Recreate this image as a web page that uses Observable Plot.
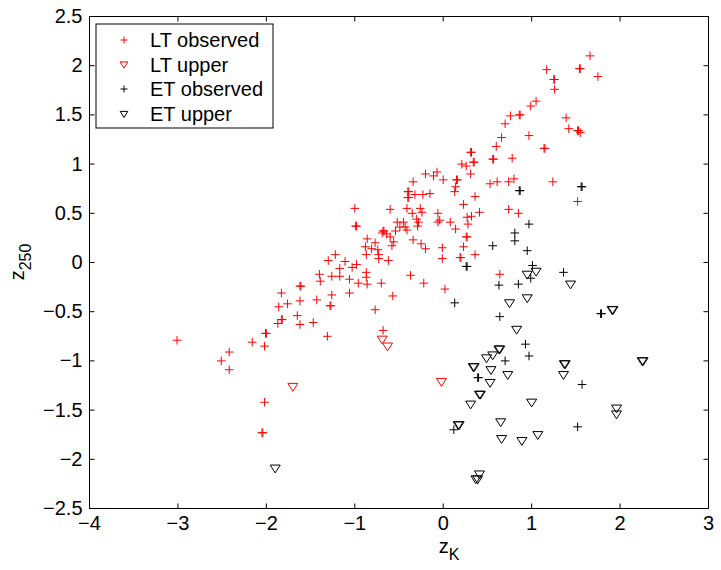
<!DOCTYPE html>
<html><head><meta charset="utf-8">
<script src="https://cdn.jsdelivr.net/npm/d3@7"></script>
<script src="https://cdn.jsdelivr.net/npm/@observablehq/plot@0.6"></script>
<style>
body{margin:0;background:#fff;}
#chart svg{font-family:"Liberation Sans",Arial,Helvetica,sans-serif;}
</style>
</head><body><div id="chart"></div>
<script>
// LT observed (red +)
const ltObserved = [
[-3.01,-0.79],[-2.51,-1.00],[-2.42,-0.91],[-2.42,-1.09],[-2.16,-0.81],[-2.01,-0.72],[-2.00,-0.72],
[-2.02,-0.85],[-2.02,-1.42],[-2.05,-1.73],[-2.04,-1.73],[-1.83,-0.31],[-1.86,-0.45],[-1.76,-0.42],
[-1.83,-0.58],[-1.82,-0.58],[-1.87,-0.62],[-1.65,-0.54],[-1.62,-0.39],[-1.62,-0.24],[-1.61,-0.24],
[-1.62,-0.63],[-1.47,-0.61],[-1.43,-0.38],[-1.40,-0.12],[-1.39,-0.19],[-1.31,-0.75],[-1.26,-0.33],
[-1.28,-0.44],[-1.27,-0.44],[-1.30,0.02],[-1.22,0.08],[-1.11,0.01],[-1.03,-0.05],[-0.98,-0.02],
[-1.17,-0.06],[-1.26,-0.14],[-1.17,-0.14],[-1.06,-0.17],[-1.06,-0.31],[-0.96,-0.21],[-0.86,-0.22],
[-0.87,-0.10],[-0.87,-0.15],[-0.70,-0.21],[-0.77,-0.48],[-0.57,-0.34],[-0.68,-0.69],[-0.37,-0.13],
[-0.22,-0.21],[0.02,-0.27],[0.64,-0.12],[-1.00,0.55],[-0.99,0.37],[-0.98,0.37],[-0.60,0.54],
[-0.41,0.55],[-0.35,0.50],[-0.26,0.55],[-0.24,0.51],[-0.30,0.44],[-0.28,0.41],[-0.29,0.37],
[-0.06,0.50],[-0.06,0.41],[-0.04,0.43],[-0.52,0.41],[-0.45,0.41],[-0.43,0.36],[-0.41,0.33],
[-0.49,0.36],[-0.54,0.32],[-0.68,0.32],[-0.67,0.32],[-0.64,0.29],[-0.60,0.26],[-0.69,0.30],
[-0.56,0.21],[-0.58,0.17],[-0.86,0.24],[-0.77,0.20],[-0.88,0.16],[-0.81,0.14],[-0.74,0.13],
[-0.87,0.08],[-0.73,0.08],[-0.73,0.04],[-0.62,0.02],[-0.34,0.23],[-0.25,0.19],[-0.20,0.14],
[-0.20,0.90],[-0.11,0.88],[-0.07,0.92],[-0.34,0.82],[-0.40,0.72],[-0.39,0.72],[-0.40,0.66],
[-0.39,0.66],[-0.32,0.69],[-0.23,0.69],[-0.15,0.70],[0.00,0.84],[0.15,0.84],[0.16,0.84],
[0.14,0.77],[0.13,0.72],[0.36,0.67],[0.23,0.59],[0.41,0.51],[0.32,0.47],[0.27,0.46],[0.28,0.39],
[0.08,0.41],[0.14,0.34],[0.26,0.26],[0.27,0.26],[0.23,0.16],[0.36,0.08],[0.19,0.05],[0.20,0.05],
[-0.01,0.15],[-0.01,0.04],[0.74,0.54],[0.85,0.50],[0.31,1.12],[0.32,1.12],[0.34,1.02],[0.35,1.02],
[0.21,1.00],[0.26,0.98],[0.31,0.90],[0.56,1.05],[0.57,1.05],[0.78,1.06],[0.80,0.85],[0.74,0.82],
[0.61,0.82],[0.53,0.80],[1.24,0.82],[1.52,0.62],[0.60,1.18],[0.66,1.27],[0.70,1.41],[0.76,1.49],
[0.86,1.50],[0.87,1.50],[0.97,1.29],[1.14,1.16],[1.15,1.16],[1.39,1.47],[1.42,1.36],[1.52,1.34],
[1.53,1.34],[1.55,1.32],[0.99,1.59],[1.05,1.64],[1.17,1.96],[1.25,1.86],[1.26,1.86],[1.26,1.76],
[1.54,1.97],[1.55,1.97],[1.66,2.10],[1.75,1.89]
];
// LT upper (red triangles)
const ltUpper = [[-1.70,-1.26],[-0.69,-0.78],[-0.63,-0.85],[-0.02,-1.21]];
// ET observed (black +)
const etObserved = [
[0.86,0.73],[0.87,0.73],[1.56,0.77],[1.57,0.77],[0.97,0.39],[0.81,0.30],[0.81,0.22],[0.56,0.17],
[0.95,0.12],[0.26,-0.04],[0.27,-0.04],[1.01,-0.03],[0.99,-0.16],[1.36,-0.10],[0.85,-0.22],
[0.63,-0.23],[0.13,-0.41],[1.78,-0.52],[1.79,-0.52],[0.64,-0.55],[0.93,-0.83],[0.97,-0.95],
[0.70,-1.00],[0.39,-1.17],[0.40,-1.17],[1.57,-1.24],[0.12,-1.70],[1.52,-1.67]
];
// ET upper (black triangles)
const etUpper = [
[-1.90,-2.09],[0.95,-0.12],[1.05,-0.09],[1.44,-0.22],[0.75,-0.41],[0.95,-0.36],[1.91,-0.48],
[1.92,-0.48],[0.83,-0.68],[0.63,-0.88],[0.64,-0.88],[0.56,-0.94],[0.49,-0.97],[0.34,-1.06],
[0.35,-1.06],[0.54,-1.09],[0.73,-1.14],[0.53,-1.22],[1.37,-1.03],[1.38,-1.03],[1.36,-1.14],
[2.25,-1.00],[2.26,-1.00],[0.41,-1.34],[0.42,-1.34],[0.31,-1.44],[1.00,-1.42],[1.96,-1.48],
[1.96,-1.54],[0.17,-1.65],[0.18,-1.65],[0.65,-1.62],[0.66,-1.79],[0.89,-1.81],[1.07,-1.75],
[0.37,-2.20],[0.39,-2.20],[0.41,-2.15]
];
const xTicks = [-4,-3,-2,-1,0,1,2,3];
const yTicks = [-2.5,-2,-1.5,-1,-0.5,0,0.5,1,1.5,2,2.5];
const legendLabels = ["LT observed","LT upper","ET observed","ET upper"];

const fmt = d => d < 0 ? "\u2212" + Math.abs(d) : String(d);
const plusSym = {draw(ctx, size){const s=Math.sqrt(size/Math.PI); ctx.moveTo(-s,0); ctx.lineTo(s,0); ctx.moveTo(0,-s); ctx.lineTo(0,s);}};
const triDown = {draw(ctx, size){const s=Math.sqrt(size/Math.PI); ctx.moveTo(-s,-0.62*s); ctx.lineTo(s,-0.62*s); ctx.lineTo(0,0.95*s); ctx.closePath();}};
const TL = 5;
const tickUp = {draw(ctx){ctx.moveTo(0,0); ctx.lineTo(0,-TL);}};
const tickDown = {draw(ctx){ctx.moveTo(0,0); ctx.lineTo(0,TL);}};
const tickRight = {draw(ctx){ctx.moveTo(0,0); ctx.lineTo(TL,0);}};
const tickLeft = {draw(ctx){ctx.moveTo(0,0); ctx.lineTo(-TL,0);}};

const X = d => d[0], Y = d => d[1], I = d => d;
const chart = Plot.plot({
  width: 721, height: 570,
  marginLeft: 89, marginRight: 13, marginTop: 16, marginBottom: 62,
  style: {fontFamily: '"Liberation Sans",Arial,sans-serif', fontSize: "20px", background: "#fff", color: "#000"},
  x: {domain: [-4, 3]},
  y: {domain: [-2.5, 2.5]},
  marks: [
    Plot.dot(etUpper, {x: X, y: Y, symbol: triDown, r: 5, stroke: "#000", strokeWidth: 1, fill: "none"}),
    Plot.dot(etObserved, {x: X, y: Y, symbol: plusSym, r: 4.3, stroke: "#000", strokeWidth: 1}),
    Plot.dot(ltUpper, {x: X, y: Y, symbol: triDown, r: 5, stroke: "#ff0000", strokeWidth: 1, fill: "none"}),
    Plot.dot(ltObserved, {x: X, y: Y, symbol: plusSym, r: 4.3, stroke: "#ff0000", strokeWidth: 1}),
    Plot.dot(xTicks, {x: I, frameAnchor: "bottom", symbol: tickUp, stroke: "#000", strokeWidth: 1}),
    Plot.dot(xTicks, {x: I, frameAnchor: "top", symbol: tickDown, stroke: "#000", strokeWidth: 1}),
    Plot.dot(yTicks, {y: I, frameAnchor: "left", symbol: tickRight, stroke: "#000", strokeWidth: 1}),
    Plot.dot(yTicks, {y: I, frameAnchor: "right", symbol: tickLeft, stroke: "#000", strokeWidth: 1}),
    Plot.axisX(xTicks, {anchor: "bottom", tickSize: 0, tickPadding: 7, label: null, tickFormat: fmt, fontSize: 20}),
    Plot.axisY(yTicks, {anchor: "left", tickSize: 0, tickPadding: 7, label: null, tickFormat: fmt, fontSize: 20}),
    Plot.frame({stroke: "#000", strokeWidth: 1})
  ]
});
document.getElementById("chart").appendChild(chart);

const svg = d3.select(chart);
// axis labels
const xl = svg.append("text").attr("x", 449).attr("y", 553).attr("text-anchor", "middle")
  .attr("font-size", 20).attr("fill", "#000");
xl.append("tspan").text("z");
xl.append("tspan").attr("dy", 7).attr("font-size", 16).text("K");
const yl = svg.append("text").attr("transform", "translate(24,262) rotate(-90)").attr("text-anchor", "middle")
  .attr("font-size", 20).attr("fill", "#000");
yl.append("tspan").text("z");
yl.append("tspan").attr("dy", 7).attr("font-size", 16).text("250");

// legend
const lg = svg.append("g");
lg.append("rect").attr("x", 96).attr("y", 24).attr("width", 177).attr("height", 104)
  .attr("fill", "#fff").attr("stroke", "#000").attr("stroke-width", 1);
const rowsY = [40, 64.5, 89, 114];
const colors = ["#ff0000", "#ff0000", "#000", "#000"];
legendLabels.forEach((t, i) => {
  const cy = rowsY[i], cx = 124;
  if (i % 2 === 0) {
    lg.append("path").attr("d", `M${cx-3.5},${cy}h7M${cx},${cy-3.5}v7`).attr("stroke", colors[i]).attr("fill", "none");
  } else {
    lg.append("path").attr("d", `M${cx-3.8},${cy-2.6}h7.6L${cx},${cy+3.6}Z`).attr("stroke", colors[i]).attr("fill", "none");
  }
  lg.append("text").attr("x", 150).attr("y", cy + 7).attr("text-anchor", "start")
    .attr("font-size", 20).attr("fill", "#000").text(t);
});
</script>
</body></html>
